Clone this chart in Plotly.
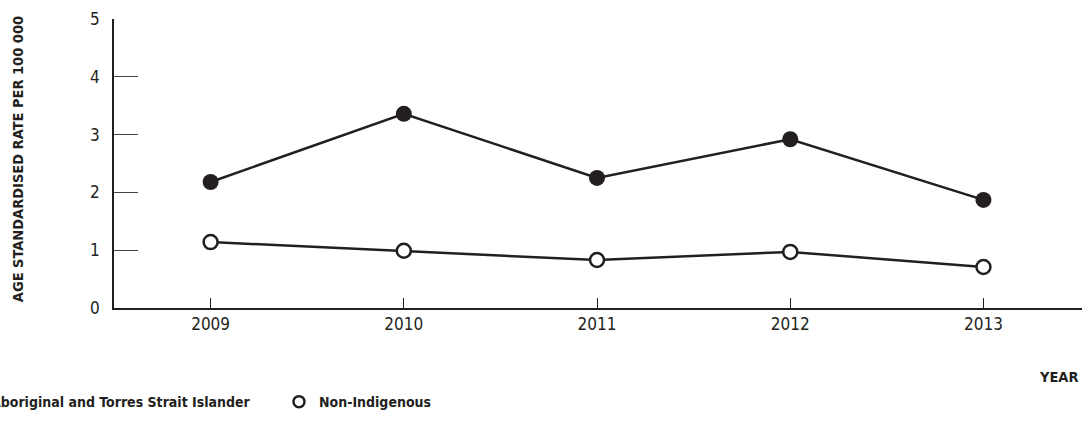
import plotly.graph_objects as go

years = [2009, 2010, 2011, 2012, 2013]
aboriginal = [2.18, 3.36, 2.25, 2.92, 1.87]
non_indigenous = [1.14, 0.99, 0.83, 0.97, 0.71]
y_ticks = [0, 1, 2, 3, 4, 5]
series_names = ["Aboriginal and Torres Strait Islander", "Non-Indigenous"]

INK = "#231f20"
FONT = "DejaVu Sans Condensed, Liberation Sans Narrow, Liberation Sans, sans-serif"


def f(size, bold=False):
    d = dict(family=FONT, size=size, color=INK)
    if bold:
        d["weight"] = "bold"
    return d


filled = dict(size=16, color=INK, line=dict(color=INK, width=0))
hollow = dict(size=14, color="white", line=dict(color=INK, width=2.5))

fig = go.Figure()
fig.add_trace(go.Scatter(
    x=years, y=aboriginal, mode="lines+markers", name=series_names[0],
    line=dict(color=INK, width=2.5), marker=filled, showlegend=False,
))
fig.add_trace(go.Scatter(
    x=years, y=non_indigenous, mode="lines+markers", name=series_names[1],
    line=dict(color=INK, width=2.5), marker=hollow, showlegend=False,
))
# legend entries (marker only, as in the reference)
fig.add_trace(go.Scatter(x=[None], y=[None], mode="markers", name=series_names[0],
                         marker=dict(size=13, color=INK)))
fig.add_trace(go.Scatter(x=[None], y=[None], mode="markers", name=series_names[1],
                         marker=dict(size=11, color="white", line=dict(color=INK, width=2.5))))

fig.update_layout(
    width=1083, height=437,
    margin=dict(l=114, r=1, t=19, b=129, autoexpand=False),
    paper_bgcolor="white", plot_bgcolor="white",
    font=f(15),
    showlegend=True,
    legend=dict(
        orientation="h", x=-0.1684, xanchor="left", y=-0.27, yanchor="top",
        font=f(14, True), itemwidth=30, bgcolor="rgba(0,0,0,0)",
        entrywidth=283, entrywidthmode="pixels",
    ),
    xaxis=dict(
        range=[2008.5, 2013.51], tickvals=years, ticktext=[str(y) for y in years],
        showgrid=False, zeroline=False, showline=True, linecolor=INK, linewidth=1.5,
        ticks="inside", ticklen=10, tickcolor=INK, tickwidth=1,
        tickfont=f(17),
    ),
    yaxis=dict(
        range=[0, 5], tickvals=y_ticks,
        showgrid=False, zeroline=False, showline=True, linecolor=INK, linewidth=1.5,
        ticks="inside", ticklen=24, tickcolor="#444444", tickwidth=1,
        tickfont=f(17), ticklabelstandoff=9,
    ),
    annotations=[
        dict(text="AGE STANDARDISED RATE PER 100 000", xref="paper", yref="paper",
             x=0, xshift=-96, y=0.515, xanchor="center", yanchor="middle",
             textangle=-90, showarrow=False, font=f(14.5, True)),
        dict(text="YEAR", xref="paper", yref="paper", x=1, xshift=-1, y=-0.24,
             xanchor="right", yanchor="middle", showarrow=False, font=f(14.5, True)),
    ],
)

fig.write_html("out.html", config={"displayModeBar": False},
               post_script="document.body.style.margin='0';")
